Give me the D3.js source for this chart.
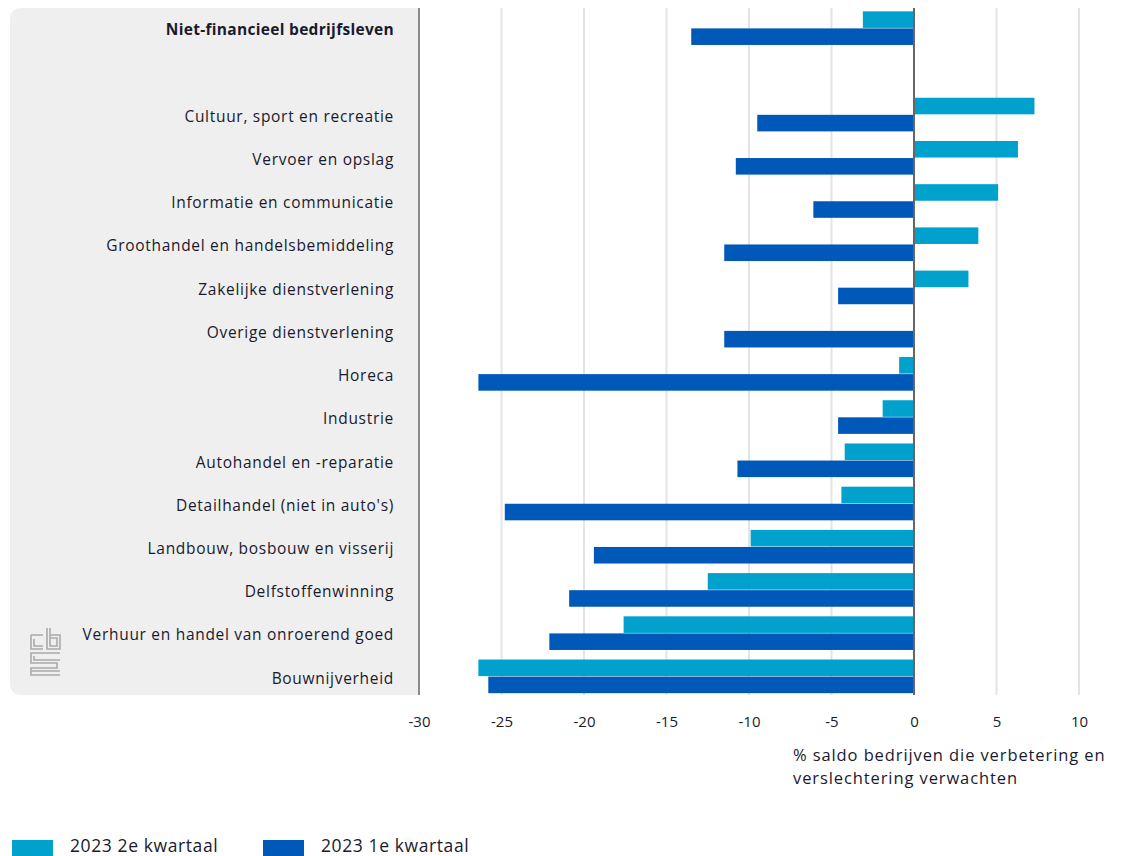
<!DOCTYPE html>
<html>
<head>
<meta charset="utf-8">
<script src="https://cdn.jsdelivr.net/npm/d3@7"></script>
<style>
  body { margin: 0; background: #fff; }
  text { font-family: "Open Sans", "Noto Sans", sans-serif; fill: #1a1a2e; }
</style>
</head>
<body>
<div id="chart"></div>
<script>
// categories top to bottom, "" is the empty gap row
let categories = [
  "Niet-financieel bedrijfsleven", "",
  "Cultuur, sport en recreatie", "Vervoer en opslag", "Informatie en communicatie",
  "Groothandel en handelsbemiddeling", "Zakelijke dienstverlening", "Overige dienstverlening",
  "Horeca", "Industrie", "Autohandel en -reparatie", "Detailhandel (niet in auto's)",
  "Landbouw, bosbouw en visserij", "Delfstoffenwinning",
  "Verhuur en handel van onroerend goed", "Bouwnijverheid"
];
let q2 = [-3.1, null, 7.3, 6.3, 5.1, 3.9, 3.3, 0, -0.9, -1.9, -4.2, -4.4, -9.9, -12.5, -17.6, -26.4];
let q1 = [-13.5, null, -9.5, -10.8, -6.1, -11.5, -4.6, -11.5, -26.4, -4.6, -10.7, -24.8, -19.4, -20.9, -22.1, -25.8];
let xTicks = [-30, -25, -20, -15, -10, -5, 0, 5, 10];
let seriesNames = ["2023 2e kwartaal", "2023 1e kwartaal"];
let colors = ["#00a1cd", "#0058b8"];

let svgWidth = 1122, svgHeight = 856;
let plotLeft = 419, plotRight = 1079, plotTop = 8, plotBottom = 695;

let svg = d3.select("#chart").append("svg")
  .attr("width", svgWidth).attr("height", svgHeight);

// grey label panel
svg.append("path")
  .attr("d", `M${plotLeft},${plotTop} H22 Q10,${plotTop} 10,${plotTop + 12} V${plotBottom - 12} Q10,${plotBottom} 22,${plotBottom} H${plotLeft} Z`)
  .attr("fill", "#efefef");

let x = d3.scaleLinear().domain([-30, 10]).range([plotLeft, plotRight]);
let y = d3.scaleBand().domain(d3.range(categories.length))
  .range([plotTop - 1, plotBottom + 3]).paddingInner(0.21).paddingOuter(0.1);

// gridlines
svg.append("g").selectAll("line").data(xTicks.filter(d => d !== -30 && d !== 0)).enter()
  .append("line")
  .attr("x1", d => x(d)).attr("x2", d => x(d))
  .attr("y1", plotTop).attr("y2", plotBottom)
  .attr("stroke", "#e4e4e4").attr("stroke-width", 2);

// bars
let half = y.bandwidth() / 2;
[q2, q1].forEach(function(series, s) {
  svg.append("g").selectAll("rect")
    .data(series.map((v, i) => ({ v: v, i: i })).filter(d => d.v !== null && d.v !== 0))
    .enter().append("rect")
    .attr("x", d => x(Math.min(0, d.v)))
    .attr("width", d => Math.abs(x(d.v) - x(0)))
    .attr("y", d => y(d.i) + s * half)
    .attr("height", half - 0.5)
    .attr("fill", colors[s]);
});

// axis lines
svg.append("line").attr("x1", plotLeft).attr("x2", plotLeft)
  .attr("y1", plotTop).attr("y2", plotBottom).attr("stroke", "#666").attr("stroke-width", 1.5);
svg.append("line").attr("x1", x(0)).attr("x2", x(0))
  .attr("y1", plotTop).attr("y2", plotBottom).attr("stroke", "#666").attr("stroke-width", 2);

// category labels
svg.append("g").selectAll("text").data(categories).enter()
  .append("text")
  .attr("x", 394)
  .attr("y", (d, i) => y(i) + half)
  .attr("dy", "0.45em")
  .attr("text-anchor", "end")
  .attr("font-size", 15.5)
  .attr("letter-spacing", (d, i) => i === 0 ? 0.3 : 0.7)
  .attr("font-weight", (d, i) => i === 0 ? "bold" : "normal")
  .text(d => d);

// x axis
let bottomAxis = d3.axisBottom(x).tickValues(xTicks).tickSize(0).tickPadding(0)
  .tickFormat(d => String(d));
let gx = svg.append("g").attr("transform", `translate(0, 716)`).call(bottomAxis);
gx.select(".domain").remove();
gx.selectAll("text").attr("font-size", 15).attr("fill", "#1a1a2e")
  .style("font-family", "'Open Sans', 'Noto Sans', sans-serif");

let title = svg.append("text").attr("x", 793).attr("y", 761)
  .attr("font-size", 16.5).attr("letter-spacing", 0.9);
title.append("tspan").attr("x", 793).text("% saldo bedrijven die verbetering en");
title.append("tspan").attr("x", 793).attr("dy", 23).text("verslechtering verwachten");

// legend
let legend = svg.append("g");
let legendX = [12, 263];
seriesNames.forEach(function(name, i) {
  legend.append("rect").attr("x", legendX[i]).attr("y", 840)
    .attr("width", 41).attr("height", 16).attr("fill", colors[i]);
  legend.append("text").attr("x", legendX[i] + 58).attr("y", 852)
    .attr("font-size", 17.5).attr("letter-spacing", 0.6).text(name);
});

// cbs logo
let logo = svg.append("g").attr("fill", "none").attr("stroke", "#aaa").attr("stroke-width", 1.6);
logo.append("path").attr("d", "M31,635 H43 M31,635 V649 H43 M34,639 V646 H43");
logo.append("path").attr("d", "M47,628 V649 H60 V635 H50 M50,628 V646 H57 V638 H50");
logo.append("path").attr("d", "M60,653 H31 V663 H57 V668 H31 V675 H60 M34,656 V660 H60 M31,671 H60");
</script>
</body>
</html>
